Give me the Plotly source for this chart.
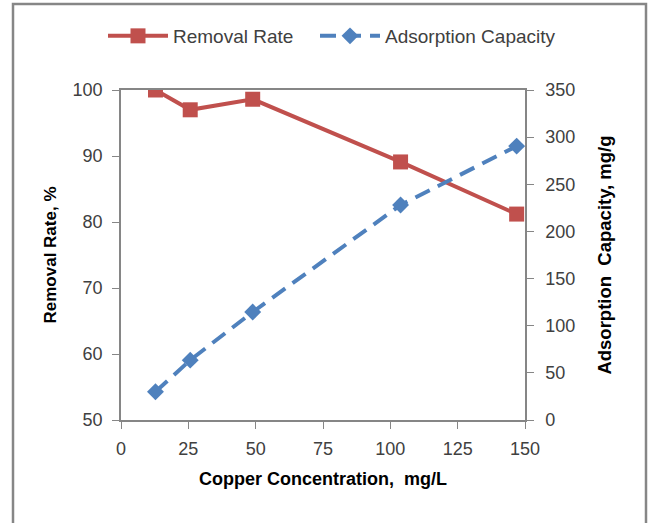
import plotly.graph_objects as go

concentration = [12.8, 25.7, 48.9, 103.8, 146.9]
removal_rate = [100.0, 97.0, 98.6, 89.1, 81.2]
adsorption_capacity = [30.0, 63.5, 114.5, 228.0, 290.5]

W, H = 648, 523
L, R, T, B = 121, 123, 90, 103
pw, ph = W - L - R, H - T - B

def px_x(p):
    return (p - L) / pw

def px_y(p):
    return (H - B - p) / ph

font_family = "Liberation Sans Narrow, Liberation Sans, Arial, sans-serif"
title_family = "Liberation Sans, Arial, sans-serif"

fig = go.Figure()
fig.add_trace(go.Scatter(
    x=concentration, y=removal_rate, name="Removal Rate",
    mode="lines+markers",
    line=dict(color="#C0504D", width=4),
    marker=dict(symbol="square", size=15, color="#C0504D"),
    yaxis="y", legend="legend"))
fig.add_trace(go.Scatter(
    x=concentration, y=adsorption_capacity, name="Adsorption Capacity",
    mode="lines+markers",
    line=dict(color="#4F81BD", width=4, dash="16px,9px"),
    marker=dict(symbol="diamond", size=13, color="#4F81BD"),
    yaxis="y2", legend="legend2"))

axis_common = dict(showgrid=False, zeroline=False, showline=True, linecolor="#868686",
                   linewidth=1.5, ticks="outside", ticklen=7, tickcolor="#868686",
                   automargin=False,
                   tickfont=dict(size=18, color="#404040", family=font_family))

legend_common = dict(orientation="h", xref="container", yref="container",
                     xanchor="left", y=1 - 36 / H, yanchor="middle", itemwidth=60,
                     font=dict(size=19, color="#404040", family=font_family),
                     bgcolor="rgba(0,0,0,0)")

fig.update_layout(
    width=W, height=H,
    margin=dict(l=L, r=R, t=T, b=B, autoexpand=False),
    plot_bgcolor="white", paper_bgcolor="white",
    font=dict(family=font_family),
    showlegend=True,
    legend=dict(x=103 / W, **legend_common),
    legend2=dict(x=315 / W, **legend_common),
    xaxis=dict(range=[0, 150], tickvals=[0, 25, 50, 75, 100, 125, 150], mirror=True,
               ticklabelstandoff=5,
               title=dict(text="<b>Copper Concentration,&nbsp; mg/L</b>",
                          font=dict(size=18, color="black", family=title_family), standoff=14),
               **axis_common),
    yaxis=dict(range=[50, 100], tickvals=[50, 60, 70, 80, 90, 100],
               ticklabelstandoff=6,
               title=dict(text="<b>Removal Rate, %</b>",
                          font=dict(size=17, color="black", family=title_family), standoff=12),
               **axis_common),
    yaxis2=dict(range=[0, 350], tickvals=[0, 50, 100, 150, 200, 250, 300, 350],
                overlaying="y", side="right", ticklabelstandoff=8,
                title=dict(text="<b>Adsorption&nbsp; Capacity, mg/g</b>",
                           font=dict(size=18.5, color="black", family=title_family), standoff=24),
                **axis_common),
)

fig.add_shape(type="rect", xref="paper", yref="paper",
              x0=px_x(13), x1=px_x(646), y0=px_y(540), y1=px_y(4),
              line=dict(color="#868686", width=2.5), layer="below")

fig.write_html("out.html", config={"displayModeBar": False},
               post_script="document.body.style.margin='0';document.body.style.overflow='hidden';")
